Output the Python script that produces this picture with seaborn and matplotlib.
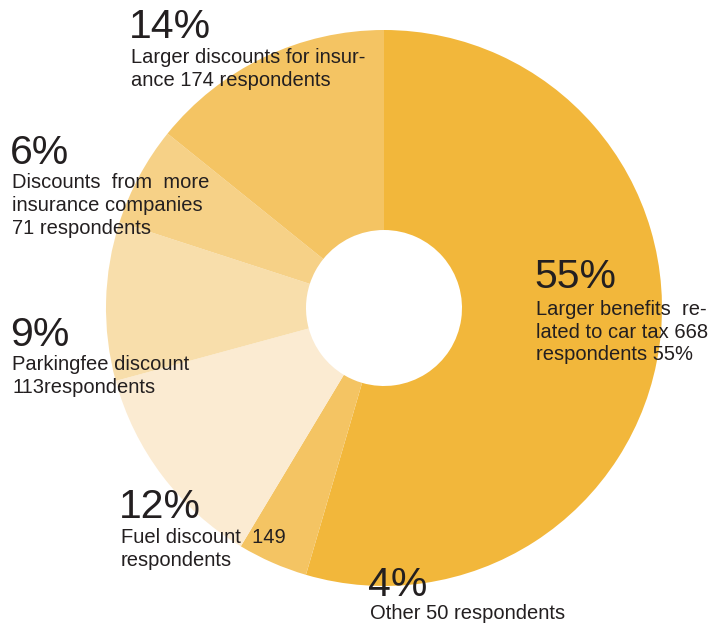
import matplotlib
matplotlib.use("Agg")
import matplotlib.pyplot as plt
import seaborn as sns

# ---- data ----
categories = ["Larger benefits related to car tax", "Other", "Fuel discount",
              "Parkingfee discount", "Discounts from more insurance companies",
              "Larger discounts for insurance"]
respondents = [668, 50, 149, 113, 71, 174]
pct_labels = ["55%", "4%", "12%", "9%", "6%", "14%"]
desc_lines = [
    ["Larger benefits  re-", "lated to car tax 668", "respondents 55%"],
    ["Other 50 respondents"],
    ["Fuel discount  149", "respondents"],
    ["Parkingfee discount", "113respondents"],
    ["Discounts  from  more", "insurance companies", "71 respondents"],
    ["Larger discounts for insur-", "ance 174 respondents"],
]

# ---- style ----
sns.set_theme(style="white")
plt.rcParams["font.family"] = ["Liberation Sans", "DejaVu Sans"]
colors = ["#F2B73B", "#F4C463", "#FBEBD2", "#F8DEAB", "#F6D187", "#F4C463"]
text_color = "#231F20"

W, H = 719, 629
fig = plt.figure(figsize=(W / 100, H / 100), dpi=100)
ax = fig.add_axes([0, 0, 1, 1])

cx, cy, R, r_in = 384, H - 308, 278, 78
ax.pie(respondents, colors=colors, startangle=90, counterclock=False,
       center=(cx, cy), radius=R,
       wedgeprops=dict(width=R - r_in, edgecolor="none", linewidth=0))
ax.set_xlim(0, W)
ax.set_ylim(0, H)
ax.set_aspect("equal")
ax.axis("off")

# label anchors: (x, baseline of percent, first line baseline, line step)
anchors = [
    (536, 288, 315, 22.5),
    (370, 596, 619, 22.5),
    (121, 518, 543, 22.5),
    (12, 346, 370, 23),
    (12, 164, 188, 23),
    (131, 38, 63, 22.5),
]
for (x, yp, yl, step), pct, lines in zip(anchors, pct_labels, desc_lines):
    ax.text(x - 2, H - yp, pct, fontsize=29.5, color=text_color,
            ha="left", va="baseline")
    for i, ln in enumerate(lines):
        ax.text(x, H - (yl + i * step), ln, fontsize=14.5, color=text_color,
                ha="left", va="baseline")

fig.savefig("out.png", dpi=100)
